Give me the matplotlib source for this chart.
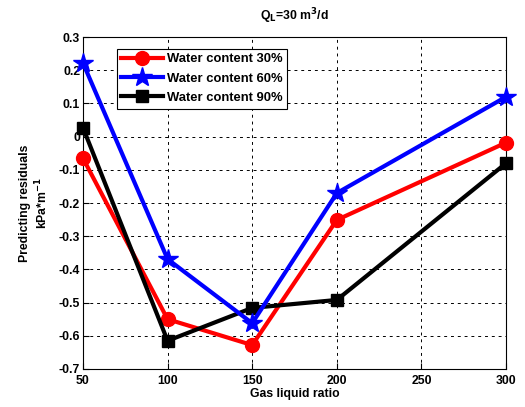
import matplotlib
matplotlib.use("Agg")
import matplotlib.pyplot as plt

gas_liquid_ratio = [50, 100, 150, 200, 300]
wc30 = [-0.065, -0.55, -0.628, -0.251, -0.018]
wc60 = [0.222, -0.369, -0.562, -0.17, 0.12]
wc90 = [0.027, -0.615, -0.516, -0.492, -0.08]
labels = ["Water content 30%", "Water content 60%", "Water content 90%"]

plt.rcParams['font.family'] = ['Liberation Sans', 'DejaVu Sans']
plt.rcParams['font.weight'] = 'bold'

fig = plt.figure(figsize=(5.25, 4.07), dpi=100)
ax = fig.add_axes([0.158, 0.0934, 0.806, 0.8156])

ax.plot(gas_liquid_ratio, wc30, color='red', lw=3, marker='o', ms=10, label=labels[0], clip_on=False, zorder=3)
ax.plot(gas_liquid_ratio, wc60, color='blue', lw=3, marker='*', ms=15, label=labels[1], clip_on=False, zorder=4)
ax.plot(gas_liquid_ratio, wc90, color='black', lw=3, marker='s', ms=9, label=labels[2], clip_on=False, zorder=3)

ax.set_xlim(50, 300)
ax.set_ylim(-0.7, 0.3)
ax.set_xticks([50, 100, 150, 200, 250, 300])
ax.set_yticks([-0.7, -0.6, -0.5, -0.4, -0.3, -0.2, -0.1, 0, 0.1, 0.2, 0.3])
ax.set_yticklabels(['-0.7', '-0.6', '-0.5', '-0.4', '-0.3', '-0.2', '-0.1', '0', '0.1', '0.2', '0.3'])
ax.tick_params(direction='in', labelsize=8.8, length=4, pad=2)
ax.tick_params(axis='x', pad=4)
for lab in ax.get_xticklabels() + ax.get_yticklabels():
    lab.set_fontweight('bold')
ax.grid(True, color='black', linestyle=(0, (3, 4)), linewidth=0.7)
ax.set_axisbelow(True)
for s in ax.spines.values():
    s.set_linewidth(0.8)

ax.set_xlabel("Gas liquid ratio", fontsize=8.8, fontweight='bold', labelpad=1)
ax.set_ylabel("Predicting residuals\nkPa*m$^{\\mathbf{-1}}$", fontsize=8.8, fontweight='bold', labelpad=6)
ax.set_title("Q$_\\mathbf{L}$=30 m$^\\mathbf{3}$/d", fontsize=8.8, fontweight='bold', pad=12)

leg = ax.legend(loc='upper left', bbox_to_anchor=(0.08, 0.965), fancybox=False, edgecolor='black',
                fontsize=9.4, borderpad=0.35, labelspacing=0.55, handlelength=3.2, handletextpad=0.3,
                framealpha=1, borderaxespad=0)
leg.get_frame().set_linewidth(0.8)
for t in leg.get_texts():
    t.set_fontweight('bold')

fig.savefig("out.png", dpi=100)
